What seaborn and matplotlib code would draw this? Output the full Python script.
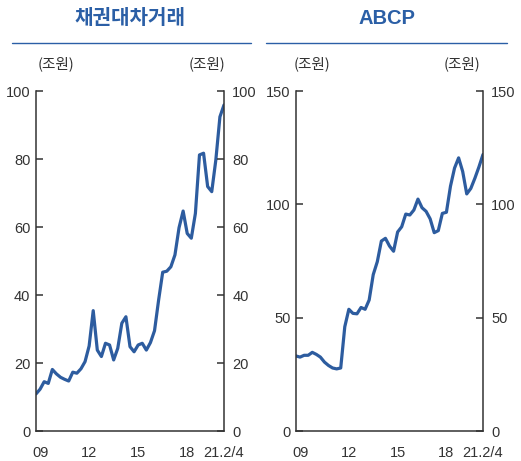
import matplotlib
matplotlib.use("Agg")
import matplotlib.pyplot as plt
from matplotlib.lines import Line2D
import numpy as np
import pandas as pd
import seaborn as sns

# Quarterly observations from 2009 Q1 through the 4th week of Feb 2021
bond_lending = [10.9, 12.3, 14.5, 14.0, 18.1, 16.8, 15.8, 15.2, 14.7, 17.3,
                17.0, 18.3, 20.4, 25.0, 35.4, 23.8, 21.9, 25.8, 25.3, 20.9,
                24.3, 31.7, 33.6, 24.8, 23.3, 25.3, 25.8, 23.8, 26.0, 29.5,
                38.5, 46.7, 47.0, 48.3, 51.8, 59.8, 64.7, 58.1, 56.7, 64.0,
                81.2, 81.7, 71.9, 70.4, 79.7, 92.4, 95.9]
abcp = [33.1, 32.6, 33.4, 33.4, 34.7, 33.8, 32.6, 30.4, 28.9, 27.8,
        27.4, 27.8, 46.0, 53.7, 51.9, 51.7, 54.5, 53.7, 57.8, 69.0,
        74.7, 83.8, 85.0, 81.6, 79.3, 87.8, 90.1, 95.7, 95.3, 97.5,
        102.3, 98.5, 96.9, 93.6, 87.5, 88.4, 96.0, 96.5, 108.0, 116.0,
        120.5, 114.5, 104.6, 107.0, 111.5, 116.5, 122.0]

titles = ["채권대차거래", "ABCP"]
unit_label = "(조원)"
year_labels = ["09", "12", "15", "18"]
end_label = "21.2/4"
y_ticks = [[0, 20, 40, 60, 80, 100], [0, 50, 100, 150]]
y_limits = [100, 150]

sns.set_theme(style="white")
plt.rcParams["font.family"] = ["Liberation Sans", "Noto Sans CJK KR", "DejaVu Sans"]

W, H = 521, 461
fig = plt.figure(figsize=(W / 100, H / 100), dpi=100)
fig.patch.set_facecolor("white")

LINE = "#2d5c9f"
INK = "#333333"

panels = [
    dict(data=bond_lending, left=36, right=224, title_x=130, rule=(11.7, 250.7),
         units=(55.8, 206.7)),
    dict(data=abcp, left=296, right=483, title_x=387, rule=(266, 506.7),
         units=(311.7, 461.7)),
]
top_px, bottom_px = 91, 431

for k, p in enumerate(panels):
    ax = fig.add_axes([p["left"] / W, 1 - bottom_px / H,
                       (p["right"] - p["left"]) / W, (bottom_px - top_px) / H])
    df = pd.DataFrame({"t": np.arange(len(p["data"])), "v": p["data"]})
    sns.lineplot(data=df, x="t", y="v", ax=ax, color=LINE, linewidth=2.3)
    n = len(p["data"]) - 1
    ax.set_xlim(0, n)
    ax.set_ylim(0, y_limits[k])
    ax.set_xlabel("")
    ax.set_ylabel("")
    ax.set_facecolor("white")
    for side in ["left", "right", "bottom"]:
        ax.spines[side].set_visible(True)
        ax.spines[side].set_color(INK)
        ax.spines[side].set_linewidth(1.1)
    ax.spines["top"].set_visible(False)

    # x axis: year tick marks, labels nudged a quarter to the right
    ax.set_xticks([0, 12, 24, 36, n])
    ax.set_xticklabels(["", "", "", "", end_label])
    ax.set_xticks([1, 13, 25, 37], minor=True)
    ax.set_xticklabels(year_labels, minor=True)
    ax.tick_params(axis="x", which="major", direction="in", length=5, width=1.1,
                   color=INK, labelcolor=INK, labelsize=10.5, pad=11)
    ax.tick_params(axis="x", which="minor", length=0, labelcolor=INK,
                   labelsize=10.5, pad=11, bottom=True)

    ax.set_yticks(y_ticks[k])
    ax.tick_params(axis="y", direction="in", length=5, width=1.1, color=INK,
                   labelcolor=INK, labelsize=10.5, pad=4, left=True)

    ax2 = ax.twinx()
    ax2.set_ylim(0, y_limits[k])
    ax2.set_yticks(y_ticks[k])
    for side in ["left", "right", "bottom", "top"]:
        ax2.spines[side].set_visible(False)
    ax2.tick_params(axis="y", direction="in", length=5, width=1.1, color=INK,
                    labelcolor=INK, labelsize=10.5, pad=6, right=True)
    ax2.grid(False)
    ax.grid(False)

    fig.text(p["title_x"] / W, 1 - 18 / H, titles[k], ha="center", va="center",
             fontsize=14.5, fontweight="bold", color="#2b5fa6",
             family=["Liberation Sans", "Noto Sans CJK KR"])
    fig.add_artist(Line2D([p["rule"][0] / W, p["rule"][1] / W],
                          [1 - 43.5 / H, 1 - 43.5 / H],
                          transform=fig.transFigure, color="#2b5fa6", linewidth=1.0))
    for ux in p["units"]:
        fig.text(ux / W, 1 - 63.5 / H, unit_label, ha="center", va="center",
                 fontsize=10.5, color=INK, family=["Noto Sans CJK KR", "DejaVu Sans"])

fig.savefig("out.png", dpi=100, facecolor="white")
